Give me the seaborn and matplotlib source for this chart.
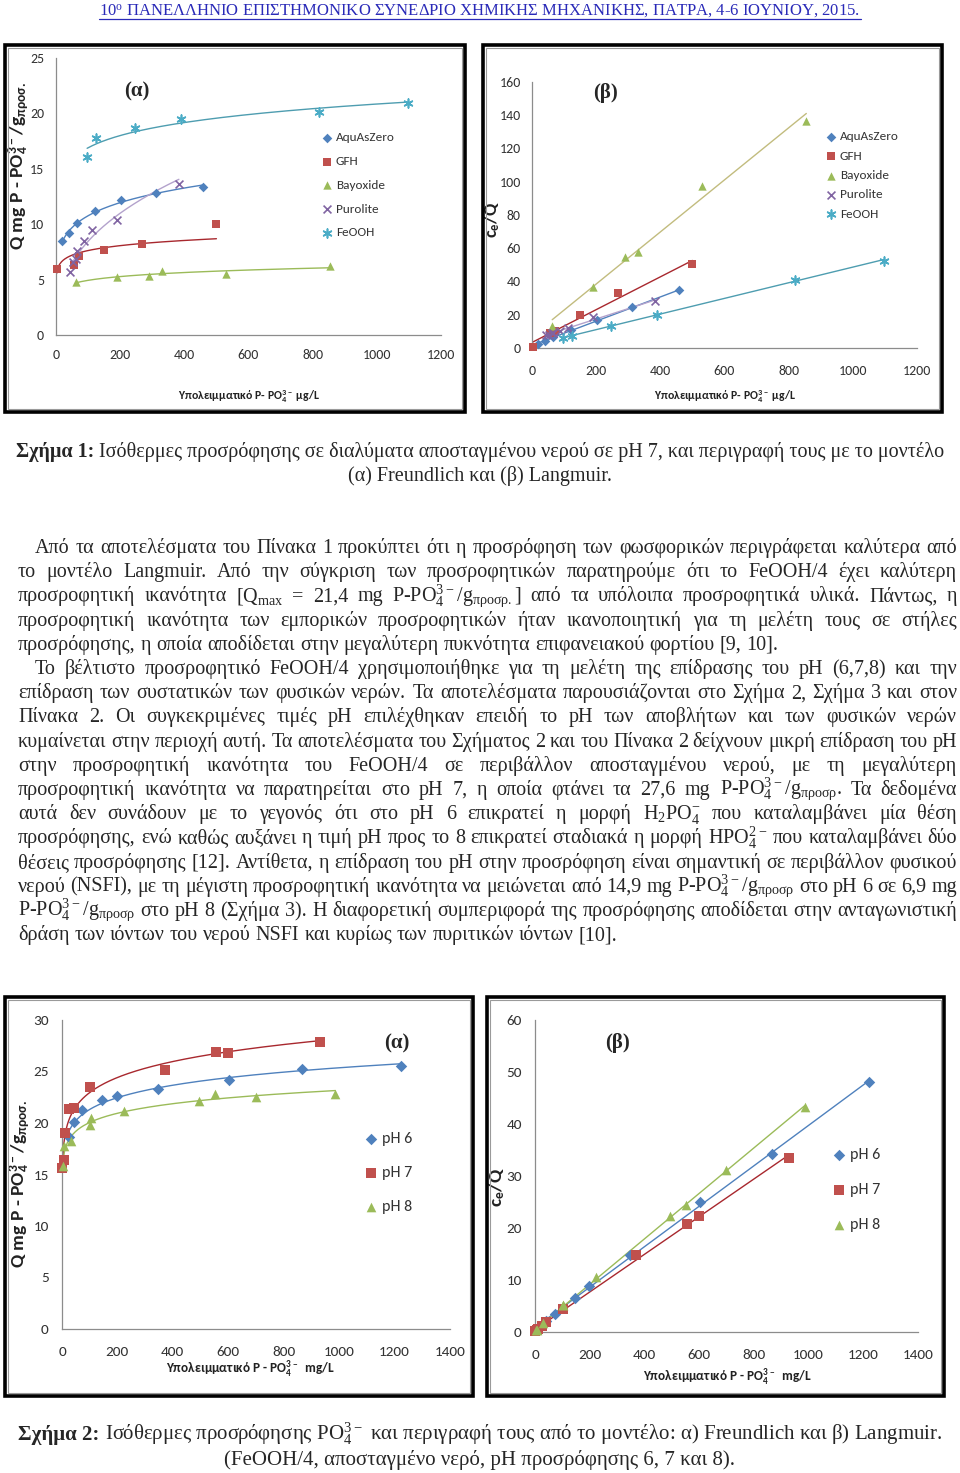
import numpy as np
import matplotlib
matplotlib.use("Agg")
import matplotlib.pyplot as plt
import seaborn as sns
from matplotlib import font_manager
from matplotlib.patches import Rectangle
from matplotlib.lines import Line2D

# ---------------- data: Σχήμα 1, pH 7 (C in µg/L) ----------------
aqu_c = [20, 41, 65, 123, 204, 313, 458]
aqu_q = [8.5, 9.2, 10.15, 11.15, 12.2, 12.8, 13.35]
aqu_cq = [2.4, 4.5, 6.6, 11.0, 16.6, 24.6, 34.6]

gfh_c = [2, 56, 73, 150, 268, 500]
gfh_q = [6.0, 6.3, 7.1, 7.7, 8.2, 10.0]
gfh_cq = [0.9, 8.9, 10.4, 20.0, 32.8, 50.5]

bay_c = [63, 189, 290, 331, 529, 855]
bay_q = [4.75, 5.2, 5.35, 5.8, 5.5, 6.25]
bay_cq = [13.4, 36.5, 55.0, 57.5, 97.5, 136.5]

pur_c = [44, 52, 62, 67, 87, 112, 191, 383]
pur_q = [5.7, 6.6, 6.9, 7.6, 8.5, 9.5, 10.4, 13.65]
pur_cq = [7.7, 7.9, 9.0, 8.8, 10.2, 11.8, 18.6, 28.2]

feo_c = [97, 126, 246, 389, 819, 1096]
feo_q = [16.1, 17.8, 18.7, 19.5, 20.1, 20.9]
feo_cq = [6.2, 7.2, 13.3, 20.0, 40.9, 52.6]

# ---------------- data: Σχήμα 2, FeOOH/4 (C in mg/L) ----------------
ph6_c = [24, 42, 73, 146, 199, 348, 603, 866, 1222]
ph6_q = [18.6, 20.1, 21.3, 22.2, 22.6, 23.3, 24.2, 25.2, 25.5]
ph6_cq = [1.3, 2.1, 3.5, 6.6, 8.9, 14.9, 25.0, 34.3, 48.0]

ph7_c = [1, 6, 11, 25, 42, 102, 371, 557, 598, 930]
ph7_q = [15.6, 16.4, 19.0, 21.4, 21.5, 23.5, 25.1, 26.9, 26.8, 27.9]
ph7_cq = [0.1, 0.4, 0.6, 1.2, 2.0, 4.4, 14.9, 20.8, 22.4, 33.4]

ph8_c = [4, 7, 31, 102, 104, 223, 494, 553, 699, 986]
ph8_q = [15.8, 17.8, 18.3, 19.8, 20.5, 21.2, 22.1, 22.8, 22.5, 22.8]
ph8_cq = [0.3, 0.4, 1.7, 5.1, 5.1, 10.5, 22.3, 24.4, 31.1, 43.3]

BLUE, RED, GREEN, PURPLE, CYAN = "#4F81BD", "#C0504D", "#9BBB59", "#8064A2", "#4BACC6"
STAR = (6, 2, 0)

sns.set_style("white")
names = {f.name for f in font_manager.fontManager.ttflist}
SANS = next((n for n in ["Liberation Sans Narrow", "Carlito", "Roboto Condensed", "Lato"] if n in names),
            "DejaVu Sans")
SERIF = "Liberation Serif"
plt.rcParams["font.family"] = [SANS, "DejaVu Sans"]

W, H = 960, 1473
fig = plt.figure(figsize=(W / 100, H / 100), dpi=100)


def fx(px):
    return px / W


def fy(py):
    return 1 - py / H


def make_axes(x0, x1, ytop, ybot):
    ax = fig.add_axes([fx(x0), fy(ybot), (x1 - x0) / W, (ybot - ytop) / H])
    ax.patch.set_alpha(0)
    return ax


def style_axes(ax, xmax, xstep, ymax, ystep, size, xpad, ypad):
    ax.set_xlim(0, xmax)
    ax.set_ylim(0, ymax)
    ax.set_xticks(np.arange(0, xmax + 1, xstep))
    ax.set_yticks(np.arange(0, ymax + 0.1, ystep))
    sns.despine(ax=ax)
    for s in ("left", "bottom"):
        ax.spines[s].set_color("#8C8C8C")
        ax.spines[s].set_linewidth(0.9)
    ax.tick_params(direction="out", length=4, width=0.9, color="#8C8C8C",
                   labelsize=size, labelcolor="#333333")
    ax.tick_params(axis="x", pad=xpad)
    ax.tick_params(axis="y", pad=ypad)


def frame(x0, y0, x1, y1):
    fig.add_artist(Rectangle((fx(x0), fy(y1)), (x1 - x0) / W, (y1 - y0) / H,
                             transform=fig.transFigure, fill=False, lw=2.6, ec="black"))
    fig.add_artist(Rectangle((fx(x0 + 3), fy(y1 - 3)), (x1 - x0 - 6) / W, (y1 - y0 - 6) / H,
                             transform=fig.transFigure, fill=False, lw=0.8, ec="#9A9A9A"))


def label_at(ax, x0, x1, ytop, ybot, which, text, px, py, size):
    ax_x = (px - x0) / (x1 - x0)
    ax_y = (ybot - py) / (ybot - ytop)
    if which == "x":
        ax.set_xlabel(text, fontsize=size, fontweight="bold", va="center", color="#222222")
        ax.xaxis.set_label_coords(ax_x, ax_y)
    else:
        ax.set_ylabel(text, fontsize=size, fontweight="bold", va="center", color="#222222")
        ax.yaxis.set_label_coords(ax_x, ax_y)


def freundlich(ax, c, q, color):
    slope, icpt = np.polyfit(np.log(c), np.log(q), 1)
    xs = np.linspace(min(c), max(c), 200)
    ax.plot(xs, np.exp(icpt) * xs ** slope, color=color, lw=1.0)


def langmuir(ax, c, cq, color):
    sns.regplot(x=np.array(c, float), y=np.array(cq, float), ax=ax, scatter=False,
                ci=None, truncate=True, line_kws=dict(color=color, lw=1.0))


def points(ax, c, y, marker, color, size, label):
    lw = 1.2 if marker in ("x", STAR) else 0
    sns.scatterplot(x=c, y=y, ax=ax, marker=marker, color=color, s=size, label=label,
                    linewidth=lw, clip_on=False, zorder=4)


def legend(ax, left, top, size, spacing):
    ax.legend(loc="upper left", bbox_to_anchor=(fx(left), fy(top)), bbox_transform=fig.transFigure,
              frameon=False, fontsize=size, handlelength=0.8, handletextpad=0.25,
              labelspacing=spacing, borderpad=0, borderaxespad=0, labelcolor="#333333")


series1 = [
    ("AquAsZero", aqu_c, aqu_q, aqu_cq, "D", BLUE, BLUE, 24),
    ("GFH", gfh_c, gfh_q, gfh_cq, "s", RED, "#A8282E", 38),
    ("Bayoxide", bay_c, bay_q, bay_cq, "^", GREEN, GREEN, 36),
    ("Purolite", pur_c, pur_q, pur_cq, "x", PURPLE, "#B3A2CC", 32),
    ("FeOOH", feo_c, feo_q, feo_cq, STAR, CYAN, "#4E9DB0", 40),
]

qlab = r"Q mg P - PO$\mathregular{_4^{3-}}$/g$\mathregular{_{προσ.}}$"
xlab1 = r"Υπολειμματικό P- PO$\mathregular{_4^{3-}}$ μg/L"
xlab2 = r"Υπολειμματικό P - PO$\mathregular{_4^{3-}}$  mg/L"

# ---------------- Σχήμα 1 (α) ----------------
frame(5, 45, 465, 412)
A = (56, 441, 58, 335)
ax = make_axes(*A)
for name, c, q, cq, m, col, lcol, s in series1:
    freundlich(ax, c, q, lcol)
for name, c, q, cq, m, col, lcol, s in series1:
    points(ax, c, q, m, col, s, name)
style_axes(ax, 1200, 200, 25, 5, 10, 6, 4.5)
legend(ax, 322, 132, 9.5, 0.95)
label_at(ax, *A, "x", xlab1, 249, 397, 8.5)
label_at(ax, *A, "y", qlab, 19, 166, 14)
fig.text(fx(137), fy(91), "(α)", family=SERIF, fontweight="bold", fontsize=15, ha="center", va="center")

# ---------------- Σχήμα 1 (β) ----------------
frame(483, 45, 942, 412)
B = (532, 917, 82, 348)
ax = make_axes(*B)
for name, c, q, cq, m, col, lcol, s in series1:
    langmuir(ax, c, cq, lcol if name != "Bayoxide" else "#C2BC7E")
for name, c, q, cq, m, col, lcol, s in series1:
    points(ax, c, cq, m, col, s, name)
style_axes(ax, 1200, 200, 160, 20, 10, 8, 4)
legend(ax, 826, 131, 9.5, 0.62)
label_at(ax, *B, "x", xlab1, 725, 397, 8.5)
label_at(ax, *B, "y", r"c$\mathregular{_e}$/Q", 492, 220, 13)
fig.text(fx(605), fy(93), "(β)", family=SERIF, fontweight="bold", fontsize=15, ha="center", va="center")

series2 = [
    ("pH 6", ph6_c, ph6_q, ph6_cq, "D", BLUE, BLUE, 34),
    ("pH 7", ph7_c, ph7_q, ph7_cq, "s", RED, "#A8282E", 52),
    ("pH 8", ph8_c, ph8_q, ph8_cq, "^", GREEN, GREEN, 48),
]

# ---------------- Σχήμα 2 (α) ----------------
frame(5, 997, 473, 1396)
C = (62, 450, 1020, 1329)
ax = make_axes(*C)
for name, c, q, cq, m, col, lcol, s in series2:
    freundlich(ax, c, q, lcol)
for name, c, q, cq, m, col, lcol, s in series2:
    points(ax, c, q, m, col, s, name)
style_axes(ax, 1400, 200, 30, 5, 11, 8, 5.5)
legend(ax, 365, 1132, 11.5, 1.25)
label_at(ax, *C, "x", xlab2, 250, 1370, 9.5)
label_at(ax, *C, "y", qlab, 20, 1184, 14)
fig.text(fx(397), fy(1043), "(α)", family=SERIF, fontweight="bold", fontsize=15, ha="center", va="center")

# ---------------- Σχήμα 2 (β) ----------------
frame(487, 997, 944, 1396)
D = (535, 918, 1020, 1332)
ax = make_axes(*D)
for name, c, q, cq, m, col, lcol, s in series2:
    langmuir(ax, c, cq, lcol)
for name, c, q, cq, m, col, lcol, s in series2:
    points(ax, c, cq, m, col, s, name)
style_axes(ax, 1400, 200, 60, 10, 11, 8, 5.5)
legend(ax, 833, 1148, 11.5, 1.3)
label_at(ax, *D, "x", xlab2, 727, 1378, 9.5)
label_at(ax, *D, "y", r"c$\mathregular{_e}$/Q", 497, 1187, 14)
fig.text(fx(617), fy(1043), "(β)", family=SERIF, fontweight="bold", fontsize=15, ha="center", va="center")

# ---------------- page text ----------------
renderer = fig.canvas.get_renderer()
BODY = 14.5


def width_of(t):
    return t.get_window_extent(renderer).width


def write_line(line, yc, x0, x1, justify, size=BODY):
    words = line.split(" ")
    objs = [fig.text(0, fy(yc + 5), w, fontsize=size, family=SERIF, va="baseline") for w in words]
    widths = [width_of(t) for t in objs]
    min_gap = size * 0.22 * 100 / 72
    natural = sum(widths) + min_gap * (len(words) - 1)
    if natural > x1 - x0:
        # squeeze the font a little so that the words still fit
        k = (x1 - x0) / natural
        for t in objs:
            t.set_fontsize(size * k)
        widths = [width_of(t) for t in objs]
    gap = size * 0.25 * 100 / 72
    if justify and len(words) > 1:
        gap = (x1 - x0 - sum(widths)) / (len(words) - 1)
    x = x0
    for t, w in zip(objs, widths):
        t.set_x(fx(x))
        x += w + gap


def caption(bold, rest, yc, size):
    tb = fig.text(0, fy(yc + 5), bold, fontsize=size, family=SERIF, fontweight="bold", va="baseline")
    tr = fig.text(0, fy(yc + 5), rest, fontsize=size, family=SERIF, va="baseline")
    wb, wr = width_of(tb), width_of(tr)
    x0 = 480 - (wb + wr) / 2
    tb.set_x(fx(x0))
    tr.set_x(fx(x0 + wb))


def centered(text, yc, size):
    fig.text(0.5, fy(yc + 5), text, fontsize=size, family=SERIF, ha="center", va="baseline")


head = fig.text(0.5, fy(15), r"10$\mathregular{^{ο}}$ ΠΑΝΕΛΛΗΝΙΟ ΕΠΙΣΤΗΜΟΝΙΚΟ ΣΥΝΕΔΡΙΟ ΧΗΜΙΚΗΣ ΜΗΧΑΝΙΚΗΣ, ΠΑΤΡΑ, 4-6 ΙΟΥΝΙΟΥ, 2015.",
                fontsize=12, family=SERIF, color="#2A2AB8", ha="center", va="baseline")
hw = width_of(head)
fig.add_artist(Line2D([fx(480 - hw / 2), fx(480 + hw / 2)], [fy(18.5), fy(18.5)],
                      transform=fig.transFigure, color="#2A2AB8", lw=0.9))

caption("Σχήμα 1:", " Ισόθερμες προσρόφησης σε διαλύματα αποσταγμένου νερού σε pH 7, και περιγραφή τους με το μοντέλο", 452, 14.5)
centered("(α) Freundlich και (β) Langmuir.", 476, 14.5)

ppo = r"P-PO$\mathregular{_4^{3-}}$/g$\mathregular{_{προσρ}}$"
body = [
    ("Από τα αποτελέσματα του Πίνακα 1 προκύπτει ότι η προσρόφηση των φωσφορικών περιγράφεται καλύτερα από", 35, True),
    ("το μοντέλο Langmuir. Από την σύγκριση των προσροφητικών παρατηρούμε ότι το FeOOH/4 έχει καλύτερη", 18, True),
    (r"προσροφητική ικανότητα [Q$\mathregular{_{max}}$ = 21,4 mg P-PO$\mathregular{_4^{3-}}$/g$\mathregular{_{προσρ.}}$] από τα υπόλοιπα προσροφητικά υλικά. Πάντως, η", 18, True),
    ("προσροφητική ικανότητα των εμπορικών προσροφητικών ήταν ικανοποιητική για τη μελέτη τους σε στήλες", 18, True),
    ("προσρόφησης, η οποία αποδίδεται στην μεγαλύτερη πυκνότητα επιφανειακού φορτίου [9, 10].", 18, False),
    ("Το βέλτιστο προσροφητικό FeOOH/4 χρησιμοποιήθηκε για τη μελέτη της επίδρασης του pH (6,7,8) και την", 35, True),
    ("επίδραση των συστατικών των φυσικών νερών. Τα αποτελέσματα παρουσιάζονται στο Σχήμα 2, Σχήμα 3 και στον", 18, True),
    ("Πίνακα 2. Οι συγκεκριμένες τιμές pH επιλέχθηκαν επειδή το pH των αποβλήτων και των φυσικών νερών", 18, True),
    ("κυμαίνεται στην περιοχή αυτή. Τα αποτελέσματα του Σχήματος 2 και του Πίνακα 2 δείχνουν μικρή επίδραση του pH", 18, True),
    ("στην προσροφητική ικανότητα του FeOOH/4 σε περιβάλλον αποσταγμένου νερού, με τη μεγαλύτερη", 18, True),
    ("προσροφητική ικανότητα να παρατηρείται στο pH 7, η οποία φτάνει τα 27,6 mg " + ppo + ". Τα δεδομένα", 18, True),
    (r"αυτά δεν συνάδουν με το γεγονός ότι στο pH 6 επικρατεί η μορφή H$\mathregular{_2}$PO$\mathregular{_4^{-}}$ που καταλαμβάνει μία θέση", 18, True),
    (r"προσρόφησης, ενώ καθώς αυξάνει η τιμή pH προς το 8 επικρατεί σταδιακά η μορφή HPO$\mathregular{_4^{2-}}$ που καταλαμβάνει δύο", 18, True),
    ("θέσεις προσρόφησης [12]. Αντίθετα, η επίδραση του pH στην προσρόφηση είναι σημαντική σε περιβάλλον φυσικού", 18, True),
    ("νερού (NSFI), με τη μέγιστη προσροφητική ικανότητα να μειώνεται από 14,9 mg " + ppo + " στο pH 6 σε 6,9 mg", 18, True),
    (ppo + " στο pH 8 (Σχήμα 3). Η διαφορετική συμπεριφορά της προσρόφησης αποδίδεται στην ανταγωνιστική", 18, True),
    ("δράση των ιόντων του νερού NSFI και κυρίως των πυριτικών ιόντων [10].", 18, False),
]
for i, (line, x0, just) in enumerate(body):
    write_line(line, 548 + i * 24.2, x0, 957, just)

caption("Σχήμα 2:", r" Ισόθερμες προσρόφησης PO$\mathregular{_4^{3-}}$ και περιγραφή τους από το μοντέλο: α) Freundlich και β) Langmuir.", 1435, 15)
centered("(FeOOH/4, αποσταγμένο νερό, pH προσρόφησης 6, 7 και 8).", 1460, 15)

fig.savefig("out.png", dpi=100)
